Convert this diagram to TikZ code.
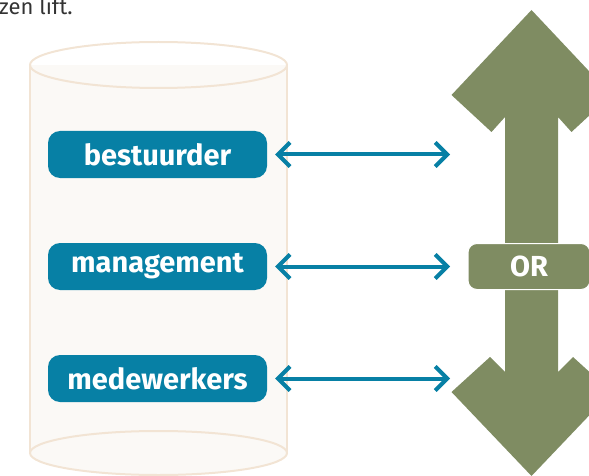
\documentclass[tikz,border=0pt]{standalone}
\usepackage{fontspec}
\setmainfont{Fira Sans}
\usetikzlibrary{arrows.meta,positioning}
\definecolor{layerblue}{HTML}{0780A5}
\definecolor{orgreen}{HTML}{7F8C62}
\definecolor{tankfill}{HTML}{FBF9F6}
\definecolor{tankline}{HTML}{F2E4D4}
\definecolor{textgrey}{HTML}{333333}

\begin{document}
\begin{tikzpicture}[x=1pt,y=-1pt,node distance=112pt,on grid,
  layer/.style={rectangle,rounded corners=12pt,fill=layerblue,text=white,
    font=\bfseries\fontsize{29}{32}\selectfont,minimum width=219pt,
    minimum height=47pt,inner sep=0pt},
  council/.style={rectangle,rounded corners=9pt,fill=orgreen,draw=white,
    line width=1pt,text=white,font=\bfseries\fontsize{29}{32}\selectfont,
    minimum width=122pt,minimum height=46pt,inner sep=0pt},
  link/.style={draw=layerblue,line width=4pt,shorten <=8pt,
    {Straight Barb[length=12pt,width=24pt]}-{Straight Barb[length=12pt,width=24pt]}}]
\clip (0,0) rectangle (589,476);

% tank
\fill[tankfill] (30,65) rectangle (287,453);
\fill[tankfill] (158.5,453) ellipse [x radius=128.5,y radius=22];
\draw[tankline,line width=2pt] (30,65) -- (30,453) (287,65) -- (287,453);
\draw[tankline,line width=2pt] (158.5,65) ellipse [x radius=128.5,y radius=23];
\draw[tankline,line width=2pt] (158.5,453) ellipse [x radius=128.5,y radius=22];

% big arrow
\fill[orgreen] (531.5,10) -- (451.5,95) -- (491.5,132) -- (505,117)
  -- (505,372) -- (490,357) -- (451.5,392) -- (531.5,476) -- (611.5,392)
  -- (573,357) -- (558,372) -- (558,117) -- (571.5,132) -- (611.5,95) -- cycle;

\node[anchor=base west,inner sep=0pt,text=textgrey,font=\fontsize{22}{24}\selectfont] (intro) at (-1,14.5) {zen lift.};

\node[layer] (bestuurder) at (157.5,154.5) {bestuurder};
\node[layer] (management) [below=of bestuurder] {management};
\node[layer] (medewerkers) [below=of management] {medewerkers};
\node[council] (or) at (529,266.5) {OR};

\coordinate (top-end) at (450,154.5);
\coordinate (mid-end) at (450,266.5);
\coordinate (low-end) at (450,378.5);

\path[link]
     (bestuurder) edge (top-end)
     (management) edge (mid-end)
     (medewerkers) edge (low-end)
     ;
\end{tikzpicture}
\end{document}
